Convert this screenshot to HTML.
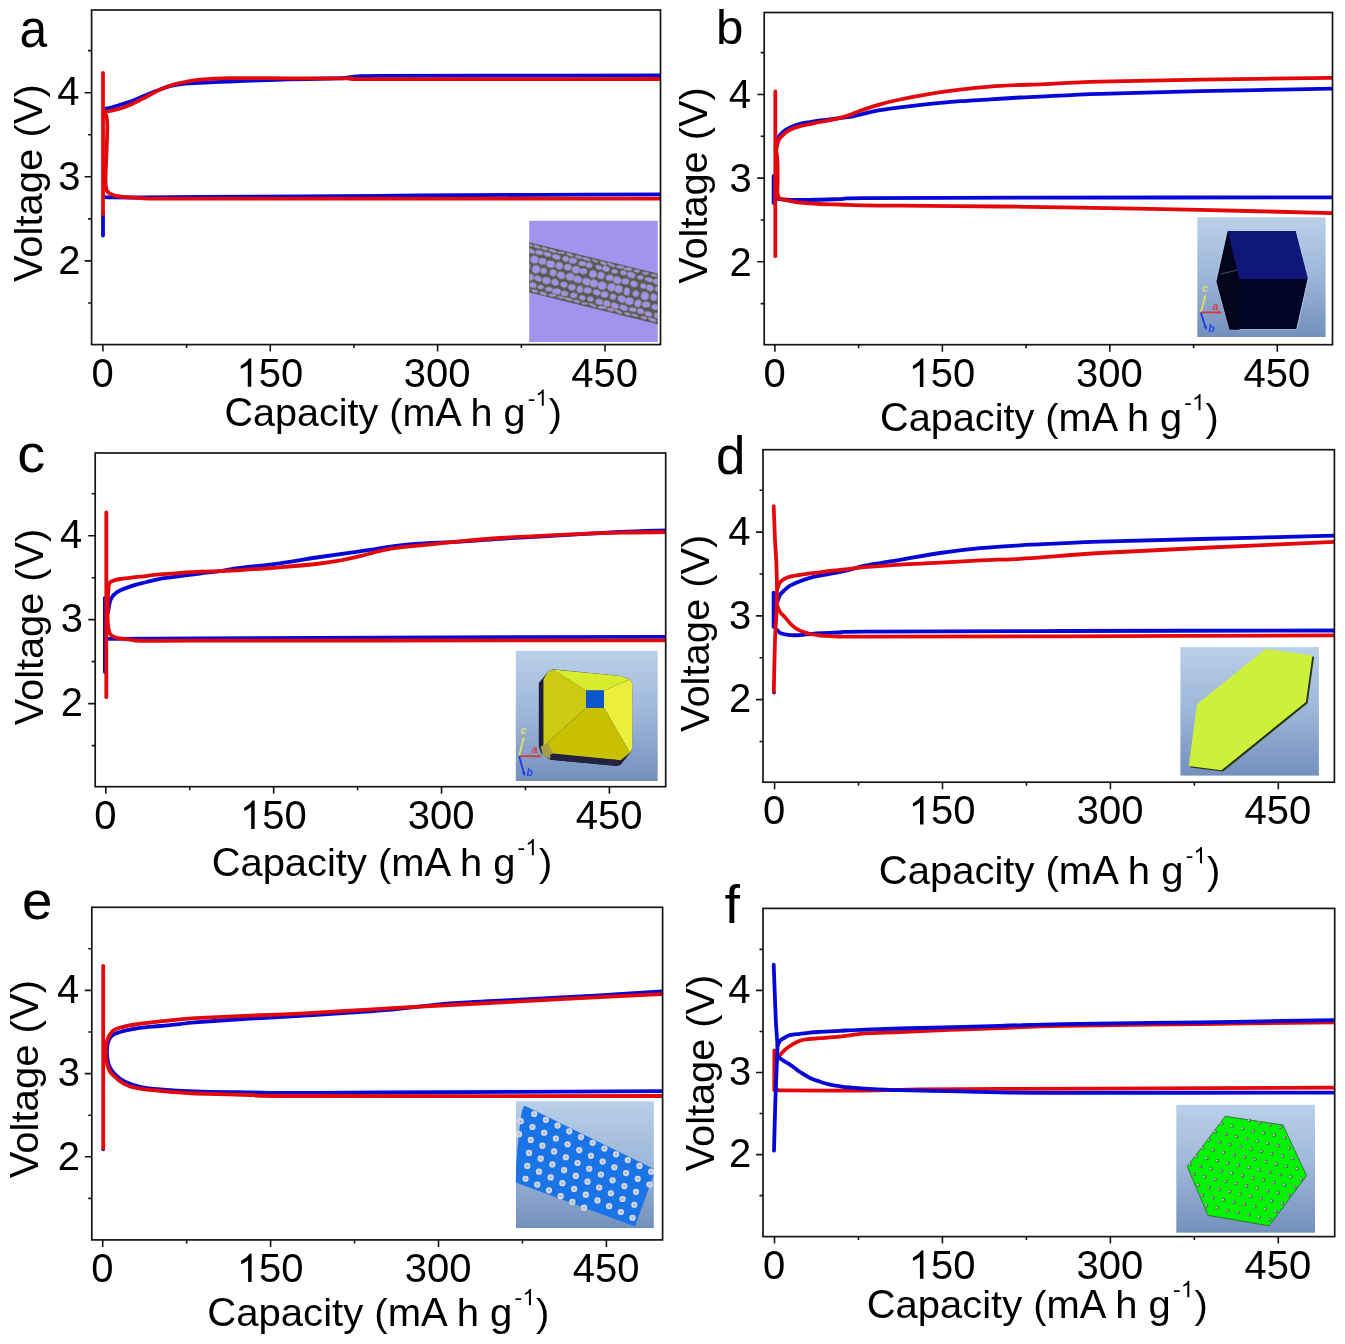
<!DOCTYPE html><html><head><meta charset="utf-8"><style>html,body{margin:0;padding:0;background:#fff;}svg{display:block;filter:blur(0.5px);}text{font-family:"Liberation Sans",sans-serif;fill:#000;}</style></head><body>
<svg width="1345" height="1344" viewBox="0 0 1345 1344">
<defs><linearGradient id="bg" x1="0" y1="0" x2="0" y2="1"><stop offset="0" stop-color="#b9d0e9"/><stop offset="0.5" stop-color="#9db5d8"/><stop offset="1" stop-color="#7390bd"/></linearGradient></defs>
<rect width="1345" height="1344" fill="#fff"/>
<rect x="529.2" y="220.8" width="128.6" height="121.2" fill="#a293ee"/>
<polygon points="529.2,242.3 657.8,273.6 657.8,324.3 529.2,292.5" fill="#59585c"/>
<clipPath id="cpa"><polygon points="529.2,242.3 657.8,273.6 657.8,324.3 529.2,292.5"/></clipPath>
<g clip-path="url(#cpa)" fill="#a092ea" stroke="#858070" stroke-width="0.8"><ellipse cx="528.43" cy="244.82" rx="4.39" ry="1.31" transform="rotate(13.87 528.43 244.82)"/><ellipse cx="537.07" cy="246.74" rx="3.77" ry="1.39" transform="rotate(20.71 537.07 246.74)"/><ellipse cx="544.55" cy="248.62" rx="3.14" ry="1.48" transform="rotate(18.32 544.55 248.62)"/><ellipse cx="552.74" cy="250.93" rx="4.45" ry="1.4" transform="rotate(16.45 552.74 250.93)"/><ellipse cx="561.4" cy="252.59" rx="3.79" ry="1.12" transform="rotate(6.24 561.4 252.59)"/><ellipse cx="569.9" cy="254.66" rx="3.7" ry="1.3" transform="rotate(21.9 569.9 254.66)"/><ellipse cx="578.68" cy="257.08" rx="3.75" ry="1.41" transform="rotate(12.66 578.68 257.08)"/><ellipse cx="586.57" cy="259.17" rx="4.49" ry="1.5" transform="rotate(18.67 586.57 259.17)"/><ellipse cx="595.08" cy="260.88" rx="3.43" ry="1.12" transform="rotate(20.07 595.08 260.88)"/><ellipse cx="603.52" cy="263.22" rx="3.58" ry="1.55" transform="rotate(22.01 603.52 263.22)"/><ellipse cx="611.24" cy="264.81" rx="4.37" ry="1.32" transform="rotate(25.21 611.24 264.81)"/><ellipse cx="620.31" cy="266.95" rx="3.94" ry="1.47" transform="rotate(8.15 620.31 266.95)"/><ellipse cx="628.09" cy="268.97" rx="4.45" ry="1.46" transform="rotate(4.51 628.09 268.97)"/><ellipse cx="636.75" cy="270.97" rx="3.09" ry="1.47" transform="rotate(5.94 636.75 270.97)"/><ellipse cx="645.62" cy="273.29" rx="3.29" ry="1.44" transform="rotate(4.82 645.62 273.29)"/><ellipse cx="654.16" cy="275.21" rx="3.63" ry="1.19" transform="rotate(8.15 654.16 275.21)"/><ellipse cx="663.01" cy="277.68" rx="3.46" ry="1.52" transform="rotate(6.74 663.01 277.68)"/><ellipse cx="531.22" cy="251.1" rx="3.96" ry="2.14" transform="rotate(25.42 531.22 251.1)"/><ellipse cx="539.38" cy="252.56" rx="4.16" ry="2.35" transform="rotate(8.79 539.38 252.56)"/><ellipse cx="547.53" cy="254.4" rx="3.87" ry="2.27" transform="rotate(16.11 547.53 254.4)"/><ellipse cx="556.33" cy="256.86" rx="4.44" ry="2.5" transform="rotate(15.47 556.33 256.86)"/><ellipse cx="565.61" cy="258.88" rx="3.23" ry="2.89" transform="rotate(21.31 565.61 258.88)"/><ellipse cx="572.88" cy="260.66" rx="4.11" ry="2.92" transform="rotate(6.4 572.88 260.66)"/><ellipse cx="582.32" cy="263.56" rx="3.91" ry="2.44" transform="rotate(4.17 582.32 263.56)"/><ellipse cx="589.07" cy="265.27" rx="3.36" ry="2.7" transform="rotate(7.85 589.07 265.27)"/><ellipse cx="598.87" cy="267.34" rx="3.44" ry="2.21" transform="rotate(18.97 598.87 267.34)"/><ellipse cx="605.98" cy="268.75" rx="3.84" ry="2.83" transform="rotate(16.42 605.98 268.75)"/><ellipse cx="614.57" cy="271.44" rx="3.31" ry="2.07" transform="rotate(8.14 614.57 271.44)"/><ellipse cx="623.39" cy="272.84" rx="3.26" ry="2.39" transform="rotate(15.41 623.39 272.84)"/><ellipse cx="631.13" cy="274.99" rx="4.34" ry="2.95" transform="rotate(17.45 631.13 274.99)"/><ellipse cx="640.42" cy="277.44" rx="3.21" ry="2.08" transform="rotate(2.11 640.42 277.44)"/><ellipse cx="649.14" cy="279.67" rx="4.44" ry="2.07" transform="rotate(16.95 649.14 279.67)"/><ellipse cx="656.74" cy="281.54" rx="3.48" ry="2.97" transform="rotate(3.49 656.74 281.54)"/><ellipse cx="665.21" cy="283.61" rx="4.35" ry="2.73" transform="rotate(18.57 665.21 283.61)"/><ellipse cx="525.86" cy="258" rx="3.53" ry="3.51" transform="rotate(23.3 525.86 258)"/><ellipse cx="534.48" cy="259.53" rx="4.19" ry="3.73" transform="rotate(15.43 534.48 259.53)"/><ellipse cx="542.41" cy="261.42" rx="3.87" ry="3.42" transform="rotate(3.6 542.41 261.42)"/><ellipse cx="550.63" cy="264.12" rx="4.32" ry="3.57" transform="rotate(11 550.63 264.12)"/><ellipse cx="559.27" cy="265.75" rx="3.66" ry="3.7" transform="rotate(3.69 559.27 265.75)"/><ellipse cx="567.79" cy="267.19" rx="3.9" ry="3.27" transform="rotate(7.2 567.79 267.19)"/><ellipse cx="575.94" cy="269.71" rx="3.92" ry="3.8" transform="rotate(7.82 575.94 269.71)"/><ellipse cx="583.14" cy="271.24" rx="4.02" ry="2.93" transform="rotate(5.75 583.14 271.24)"/><ellipse cx="592.97" cy="274.04" rx="3.66" ry="3.76" transform="rotate(9.53 592.97 274.04)"/><ellipse cx="601.03" cy="275.48" rx="3.65" ry="3.66" transform="rotate(23.62 601.03 275.48)"/><ellipse cx="609.71" cy="277.8" rx="3.87" ry="3.07" transform="rotate(4.95 609.71 277.8)"/><ellipse cx="617.27" cy="280.16" rx="4.27" ry="3.55" transform="rotate(24.48 617.27 280.16)"/><ellipse cx="625.42" cy="281.38" rx="3.68" ry="3.02" transform="rotate(6.82 625.42 281.38)"/><ellipse cx="633.9" cy="283.97" rx="3.74" ry="3.07" transform="rotate(21.82 633.9 283.97)"/><ellipse cx="643.29" cy="286.05" rx="3.11" ry="2.73" transform="rotate(22.63 643.29 286.05)"/><ellipse cx="649.94" cy="287.96" rx="3.86" ry="3.06" transform="rotate(20.68 649.94 287.96)"/><ellipse cx="658.4" cy="289.37" rx="3.68" ry="2.72" transform="rotate(21.59 658.4 289.37)"/><ellipse cx="527.19" cy="266.47" rx="3.07" ry="3.72" transform="rotate(12.39 527.19 266.47)"/><ellipse cx="536.09" cy="269.27" rx="4.21" ry="4.15" transform="rotate(18.11 536.09 269.27)"/><ellipse cx="543.74" cy="270.91" rx="3.27" ry="2.91" transform="rotate(13.01 543.74 270.91)"/><ellipse cx="553.08" cy="272.82" rx="3.41" ry="3.35" transform="rotate(18.41 553.08 272.82)"/><ellipse cx="560.98" cy="275.28" rx="4.13" ry="3.41" transform="rotate(20.69 560.98 275.28)"/><ellipse cx="570.16" cy="276.86" rx="4.4" ry="3.84" transform="rotate(4.8 570.16 276.86)"/><ellipse cx="577.57" cy="279.33" rx="4.36" ry="3.39" transform="rotate(15.33 577.57 279.33)"/><ellipse cx="586.62" cy="281.74" rx="4.42" ry="3.5" transform="rotate(17.31 586.62 281.74)"/><ellipse cx="593.82" cy="283.4" rx="4.23" ry="3.73" transform="rotate(18.9 593.82 283.4)"/><ellipse cx="602.14" cy="285.65" rx="4.47" ry="4.17" transform="rotate(14.57 602.14 285.65)"/><ellipse cx="611.67" cy="287.25" rx="4.36" ry="4.01" transform="rotate(10.04 611.67 287.25)"/><ellipse cx="618.75" cy="289.12" rx="3.83" ry="3.9" transform="rotate(13.38 618.75 289.12)"/><ellipse cx="626.91" cy="291.56" rx="3.1" ry="3.94" transform="rotate(5.83 626.91 291.56)"/><ellipse cx="635.81" cy="293.7" rx="3.21" ry="3.09" transform="rotate(14.08 635.81 293.7)"/><ellipse cx="644.83" cy="295.96" rx="4.03" ry="4.13" transform="rotate(13.5 644.83 295.96)"/><ellipse cx="653.79" cy="297.21" rx="3.33" ry="3.58" transform="rotate(8.64 653.79 297.21)"/><ellipse cx="661.61" cy="299.8" rx="3.78" ry="4" transform="rotate(15.12 661.61 299.8)"/><ellipse cx="520.99" cy="274.33" rx="4.27" ry="3.77" transform="rotate(6.68 520.99 274.33)"/><ellipse cx="530.13" cy="277.22" rx="3.79" ry="3.38" transform="rotate(6.5 530.13 277.22)"/><ellipse cx="538.06" cy="278.62" rx="3.91" ry="2.72" transform="rotate(24.94 538.06 278.62)"/><ellipse cx="546.41" cy="280.54" rx="4.2" ry="3.37" transform="rotate(13.46 546.41 280.54)"/><ellipse cx="555.16" cy="282.28" rx="3.81" ry="3.19" transform="rotate(24.64 555.16 282.28)"/><ellipse cx="563.87" cy="284.63" rx="3.71" ry="2.84" transform="rotate(12.09 563.87 284.63)"/><ellipse cx="571.87" cy="287.3" rx="3.71" ry="3.07" transform="rotate(6.27 571.87 287.3)"/><ellipse cx="579.88" cy="289.28" rx="3.19" ry="3.63" transform="rotate(2.23 579.88 289.28)"/><ellipse cx="587.67" cy="290.38" rx="4.03" ry="3.08" transform="rotate(10.21 587.67 290.38)"/><ellipse cx="596.81" cy="292.46" rx="4.1" ry="2.84" transform="rotate(13.93 596.81 292.46)"/><ellipse cx="604.49" cy="294.44" rx="3.8" ry="3.22" transform="rotate(10.7 604.49 294.44)"/><ellipse cx="613.05" cy="296.9" rx="3.24" ry="2.94" transform="rotate(16.83 613.05 296.9)"/><ellipse cx="621.8" cy="299.03" rx="4.28" ry="3.43" transform="rotate(22.24 621.8 299.03)"/><ellipse cx="629.39" cy="301.12" rx="4.22" ry="3.78" transform="rotate(9.26 629.39 301.12)"/><ellipse cx="637.84" cy="303.39" rx="3.33" ry="3.89" transform="rotate(22.98 637.84 303.39)"/><ellipse cx="646.06" cy="304.6" rx="4.09" ry="3" transform="rotate(4.01 646.06 304.6)"/><ellipse cx="655.59" cy="307.13" rx="4.18" ry="2.84" transform="rotate(11.35 655.59 307.13)"/><ellipse cx="524.04" cy="282.82" rx="3.3" ry="2.68" transform="rotate(23.55 524.04 282.82)"/><ellipse cx="532.87" cy="285.06" rx="3.76" ry="2.75" transform="rotate(13.75 532.87 285.06)"/><ellipse cx="540.72" cy="287.03" rx="3.11" ry="2.15" transform="rotate(2.58 540.72 287.03)"/><ellipse cx="548.77" cy="289.28" rx="3.85" ry="2.19" transform="rotate(6.11 548.77 289.28)"/><ellipse cx="556.46" cy="291.43" rx="4.49" ry="2.9" transform="rotate(3.97 556.46 291.43)"/><ellipse cx="564.54" cy="293.5" rx="3.69" ry="2.75" transform="rotate(9.52 564.54 293.5)"/><ellipse cx="573.69" cy="295.34" rx="3.65" ry="2.6" transform="rotate(2 573.69 295.34)"/><ellipse cx="582.39" cy="297.75" rx="3.27" ry="2.47" transform="rotate(19.42 582.39 297.75)"/><ellipse cx="590.36" cy="299.12" rx="3.25" ry="2.52" transform="rotate(2.05 590.36 299.12)"/><ellipse cx="599.45" cy="301.86" rx="4.06" ry="2.84" transform="rotate(16.78 599.45 301.86)"/><ellipse cx="606.99" cy="303.52" rx="3.76" ry="2.95" transform="rotate(20.99 606.99 303.52)"/><ellipse cx="615.03" cy="305.75" rx="4.12" ry="2.77" transform="rotate(21.23 615.03 305.75)"/><ellipse cx="623.65" cy="307.84" rx="4.32" ry="2.69" transform="rotate(20.09 623.65 307.84)"/><ellipse cx="632.73" cy="309.62" rx="4.08" ry="2.12" transform="rotate(9.88 632.73 309.62)"/><ellipse cx="640.65" cy="311.2" rx="3.53" ry="2.64" transform="rotate(16.66 640.65 311.2)"/><ellipse cx="648.4" cy="313.9" rx="4" ry="2.36" transform="rotate(17.51 648.4 313.9)"/><ellipse cx="657.43" cy="315.74" rx="3.58" ry="2.97" transform="rotate(17.09 657.43 315.74)"/><ellipse cx="518.54" cy="287.35" rx="4.47" ry="1.1" transform="rotate(16.45 518.54 287.35)"/><ellipse cx="527.02" cy="289.18" rx="3.6" ry="1.11" transform="rotate(6.37 527.02 289.18)"/><ellipse cx="534.75" cy="290.99" rx="3.38" ry="1.53" transform="rotate(14.88 534.75 290.99)"/><ellipse cx="543.25" cy="293.46" rx="3.85" ry="1.57" transform="rotate(16.99 543.25 293.46)"/><ellipse cx="552.23" cy="295.23" rx="3.9" ry="1.46" transform="rotate(2.76 552.23 295.23)"/><ellipse cx="560.79" cy="297.36" rx="3.71" ry="1.17" transform="rotate(13.57 560.79 297.36)"/><ellipse cx="568.6" cy="299.21" rx="4.42" ry="1.29" transform="rotate(14.32 568.6 299.21)"/><ellipse cx="576.9" cy="301.37" rx="3.43" ry="1.41" transform="rotate(15.13 576.9 301.37)"/><ellipse cx="584.66" cy="303.42" rx="3.44" ry="1.09" transform="rotate(7.56 584.66 303.42)"/><ellipse cx="592.66" cy="305.11" rx="4.13" ry="1.28" transform="rotate(23.22 592.66 305.11)"/><ellipse cx="602.26" cy="307.4" rx="4.48" ry="1.55" transform="rotate(3.44 602.26 307.4)"/><ellipse cx="610.85" cy="309.67" rx="3.72" ry="1.56" transform="rotate(7.53 610.85 309.67)"/><ellipse cx="618.48" cy="311.76" rx="4.08" ry="1.31" transform="rotate(25.17 618.48 311.76)"/><ellipse cx="627.39" cy="313.77" rx="3.17" ry="1.39" transform="rotate(12.62 627.39 313.77)"/><ellipse cx="634.73" cy="315.3" rx="3.79" ry="1.15" transform="rotate(12.31 634.73 315.3)"/><ellipse cx="643.86" cy="317.71" rx="3.39" ry="1.37" transform="rotate(11.75 643.86 317.71)"/><ellipse cx="652.4" cy="319.82" rx="4.5" ry="1.55" transform="rotate(19.3 652.4 319.82)"/></g>
<clipPath id="clipa"><rect x="91.6" y="10" width="568.9" height="334.6"/></clipPath><g clip-path="url(#clipa)">
<path d="M103 214 L103 235.5" fill="none" stroke="#0606d6" stroke-width="3.8" stroke-linecap="round" stroke-linejoin="round"/>
<path d="M104 197 C105.33 197.07 106 197.32 112 197.4 C118 197.48 125.33 197.57 140 197.5 C154.67 197.43 173.33 197.17 200 197 C226.67 196.83 263.33 196.75 300 196.5 C336.67 196.25 380 195.78 420 195.5 C460 195.22 500 194.98 540 194.8 C580 194.62 640 194.47 660 194.4" fill="none" stroke="#0606d6" stroke-width="3.8" stroke-linecap="round" stroke-linejoin="round"/>
<path d="M104 108.8 C105 108.63 107 108.57 110 107.8 C113 107.03 118.33 105.33 122 104.2 C125.67 103.07 128.17 102.45 132 101 C135.83 99.55 140.33 97.42 145 95.5 C149.67 93.58 155.5 91.15 160 89.5 C164.5 87.85 167.83 86.58 172 85.6 C176.17 84.62 180.33 84.07 185 83.6 C189.67 83.13 192.5 83.15 200 82.8 C207.5 82.45 220 81.92 230 81.5 C240 81.08 250 80.65 260 80.3 C270 79.95 278.33 79.7 290 79.4 C301.67 79.1 320.83 78.73 330 78.5 C339.17 78.27 340.33 78.37 345 78 C349.67 77.63 352.17 76.67 358 76.3 C363.83 75.93 356.33 75.9 380 75.8 C403.67 75.7 453.33 75.77 500 75.7 C546.67 75.63 633.33 75.45 660 75.4" fill="none" stroke="#0606d6" stroke-width="3.8" stroke-linecap="round" stroke-linejoin="round"/>
<path d="M103 72.8 L103 214.5" fill="none" stroke="#e3080c" stroke-width="3.8" stroke-linecap="round" stroke-linejoin="round"/>
<path d="M104.5 112 C104.88 113 106.33 115.33 106.8 118 C107.27 120.67 107.33 122.67 107.3 128 C107.27 133.33 106.88 142.17 106.6 150 C106.32 157.83 105.73 169 105.6 175 C105.47 181 105.57 183.33 105.8 186 C106.03 188.67 106.3 189.73 107 191 C107.7 192.27 108.67 192.83 110 193.6 C111.33 194.37 112.5 195 115 195.6 C117.5 196.2 120.83 196.77 125 197.2 C129.17 197.63 132.17 197.95 140 198.2 C147.83 198.45 145.33 198.62 172 198.7 C198.67 198.78 218.67 198.72 300 198.7 C381.33 198.68 600 198.62 660 198.6" fill="none" stroke="#e3080c" stroke-width="3.8" stroke-linecap="round" stroke-linejoin="round"/>
<path d="M104.5 112 C105.42 111.83 107.08 111.67 110 111 C112.92 110.33 118.33 109.17 122 108 C125.67 106.83 128.17 105.75 132 104 C135.83 102.25 140.33 99.9 145 97.5 C149.67 95.1 155.5 91.68 160 89.6 C164.5 87.52 167.83 86.27 172 85 C176.17 83.73 180.33 82.9 185 82 C189.67 81.1 192.5 80.23 200 79.6 C207.5 78.97 215 78.42 230 78.2 C245 77.98 271.67 78.28 290 78.3 C308.33 78.32 329.67 78.28 340 78.3 C350.33 78.32 348.17 78.27 352 78.4 C355.83 78.53 338.33 78.97 363 79.1 C387.67 79.23 450.5 79.22 500 79.2 C549.5 79.18 633.33 79.03 660 79" fill="none" stroke="#e3080c" stroke-width="3.8" stroke-linecap="round" stroke-linejoin="round"/>
</g>
<rect x="91.6" y="10" width="568.9" height="334.6" fill="none" stroke="#151515" stroke-width="1.7"/>
<path d="M102.9 344.6 V351.6 M270.27 344.6 V351.6 M437.63 344.6 V351.6 M605 344.6 V351.6 M186.58 344.6 V348.1 M353.95 344.6 V348.1 M521.32 344.6 V348.1 M91.6 260.9 H84.6 M91.6 176.8 H84.6 M91.6 92.7 H84.6 M91.6 302.95 H88.1 M91.6 218.85 H88.1 M91.6 134.75 H88.1 M91.6 50.65 H88.1" stroke="#151515" stroke-width="1.6" fill="none"/>
<text transform="translate(102.5 386.8) scale(1 1.03)" font-size="40" text-anchor="middle">0</text>
<path d="M763 0L583 0L583 1147C540 1106 480 1063 412 1023C344 983 277 951 221 930L221 1104C320 1150 405 1206 485 1276C565 1346 620 1413 645 1472L763 1472Z" transform="translate(236.5 386.8) scale(0.01934 -0.01926)" fill="#000"/>
<text transform="translate(258.74 386.8) scale(1 1.03)" font-size="40" text-anchor="start">50</text>
<text transform="translate(437.23 386.8) scale(1 1.03)" font-size="40" text-anchor="middle">300</text>
<text transform="translate(604.6 386.8) scale(1 1.03)" font-size="40" text-anchor="middle">450</text>
<text transform="translate(80.4 273.6) scale(1 1.03)" font-size="40" text-anchor="end">2</text>
<text transform="translate(80.4 189.5) scale(1 1.03)" font-size="40" text-anchor="end">3</text>
<text transform="translate(79.6 105.4) scale(1 1.03)" font-size="40" text-anchor="end">4</text>
<text transform="translate(19.51 46.86) scale(0.92565 1)" font-size="53.8" text-anchor="start">a</text>
<text transform="translate(41.8 282.1) rotate(-90) translate(0 0) scale(1 1.03)" font-size="40">V</text>
<text transform="translate(41.8 282.1) rotate(-90) translate(24.47 0) scale(1 0.985)" font-size="40">oltage (</text>
<text transform="translate(41.8 282.1) rotate(-90) translate(157.89 0) scale(1 1.03)" font-size="40">V</text>
<text transform="translate(41.8 282.1) rotate(-90) translate(184.57 0) scale(1 0.985)" font-size="40">)</text>
<text transform="translate(224.58 426) scale(1 1.03)" font-size="39.51">C</text>
<text transform="translate(253.12 426) scale(1 0.985)" font-size="39.51">apacity (m</text>
<text transform="translate(435.35 426) scale(1 1.03)" font-size="39.51">A </text>
<text transform="translate(470.5 426) scale(1 0.985)" font-size="39.51">h g</text>
<text transform="translate(527.63 405.65) scale(1 0.985)" font-size="22.72" text-anchor="start">-</text>
<path d="M763 0L583 0L583 1147C540 1106 480 1063 412 1023C344 983 277 951 221 930L221 1104C320 1150 405 1206 485 1276C565 1346 620 1413 645 1472L763 1472Z" transform="translate(535.39 405.65) scale(0.01098 -0.01094)" fill="#000"/>
<text transform="translate(548.83 426) scale(1 0.985)" font-size="39.51" text-anchor="start">)</text>
<rect x="1197.3" y="217.3" width="128.3" height="119.7" fill="url(#bg)"/>
<polygon points="1227.73,231.02 1295.65,231.02 1308.05,279 1296.73,329.66 1229.35,329.66 1216.41,281.69" fill="#03042a" stroke="#c4d4ee" stroke-width="0.9"/>
<polygon points="1227.73,231.02 1295.65,231.02 1308.05,279 1239.05,279" fill="#0f187a"/>
<polygon points="1227.73,231.02 1239.05,279 1239.59,329.66 1229.35,329.66 1216.41,281.69" fill="#04041a"/>
<path d="M1220.72 274.14 L1237.43 269.83" stroke="#6a6a78" stroke-width="0.7"/>
<path d="M1200.8 312.4 L1204.56 298.36" stroke="#e6e650" stroke-width="1.7"/><polygon points="1205.6,294.5 1206.3,298.83 1202.83,297.9" fill="#e6e650"/>
<path d="M1200.8 312.4 L1218 312.4" stroke="#dd3333" stroke-width="1.7"/><polygon points="1222,312.4 1218,314.2 1218,310.6" fill="#dd3333"/>
<path d="M1200.8 312.4 L1205.19 326.19" stroke="#1a33e6" stroke-width="1.7"/><polygon points="1206.4,330 1203.47,326.73 1206.9,325.64" fill="#1a33e6"/>
<text x="1202.2" y="291.9" font-size="10.5" font-style="italic" font-weight="bold" style="fill:#e4e45c">c</text>
<text x="1212.6" y="309.7" font-size="10.5" font-style="italic" font-weight="bold" style="fill:#dd3a3a">a</text>
<text x="1208.2" y="331.8" font-size="10.5" font-style="italic" font-weight="bold" style="fill:#2244ee">b</text>
<clipPath id="clipb"><rect x="764.2" y="12.5" width="568.3" height="332.2"/></clipPath><g clip-path="url(#clipb)">
<path d="M773.6 176 L773.6 203" fill="none" stroke="#0606d6" stroke-width="3.8" stroke-linecap="round" stroke-linejoin="round"/>
<path d="M777 198.6 C777.5 198.68 776.17 198.87 780 199.1 C783.83 199.33 790 200 800 200 C810 200 829.17 199.4 840 199.1 C850.83 198.8 831.67 198.45 865 198.2 C898.33 197.95 962.17 197.73 1040 197.6 C1117.83 197.47 1283.33 197.43 1332 197.4" fill="none" stroke="#0606d6" stroke-width="3.8" stroke-linecap="round" stroke-linejoin="round"/>
<path d="M775.6 147 C775.83 145.75 776.27 141.48 777 139.5 C777.73 137.52 778.67 136.63 780 135.1 C781.33 133.57 783.33 131.58 785 130.3 C786.67 129.02 787.5 128.48 790 127.4 C792.5 126.32 796.67 124.7 800 123.8 C803.33 122.9 806.67 122.55 810 122 C813.33 121.45 816.67 120.93 820 120.5 C823.33 120.07 826.67 119.8 830 119.4 C833.33 119 836.67 118.5 840 118.1 C843.33 117.7 846.67 117.58 850 117 C853.33 116.42 855 115.73 860 114.6 C865 113.47 873.33 111.42 880 110.2 C886.67 108.98 891.67 108.35 900 107.3 C908.33 106.25 920 104.92 930 103.9 C940 102.88 950 101.95 960 101.2 C970 100.45 980 100.02 990 99.4 C1000 98.78 1011.67 97.97 1020 97.5 C1028.33 97.03 1026.67 97.2 1040 96.6 C1053.33 96 1073.33 94.8 1100 93.9 C1126.67 93 1161.33 92.08 1200 91.2 C1238.67 90.32 1310 89.03 1332 88.6" fill="none" stroke="#0606d6" stroke-width="3.8" stroke-linecap="round" stroke-linejoin="round"/>
<path d="M775.3 91.5 L775.3 256.2" fill="none" stroke="#e3080c" stroke-width="3.8" stroke-linecap="round" stroke-linejoin="round"/>
<path d="M776 150 C776.23 151.67 777.12 155 777.4 160 C777.68 165 777.68 174.5 777.7 180 C777.72 185.5 777.12 189.9 777.5 193 C777.88 196.1 777.92 197.28 780 198.6 C782.08 199.92 786.67 200.22 790 200.9 C793.33 201.58 795 202.18 800 202.7 C805 203.22 813.33 203.7 820 204 C826.67 204.3 832.5 204.27 840 204.5 C847.5 204.73 855 205.2 865 205.4 C875 205.6 877.5 205.52 900 205.7 C922.5 205.88 972.67 206.22 1000 206.5 C1027.33 206.78 1030.67 206.83 1064 207.4 C1097.33 207.97 1155.33 208.95 1200 209.9 C1244.67 210.85 1310 212.57 1332 213.1" fill="none" stroke="#e3080c" stroke-width="3.8" stroke-linecap="round" stroke-linejoin="round"/>
<path d="M776 151 C776.33 149.5 777.33 144.15 778 142 C778.67 139.85 778.83 139.55 780 138.1 C781.17 136.65 783.33 134.7 785 133.3 C786.67 131.9 787.5 130.88 790 129.7 C792.5 128.52 796.67 127.13 800 126.2 C803.33 125.27 806.67 124.8 810 124.1 C813.33 123.4 816.67 122.65 820 122 C823.33 121.35 826.67 120.9 830 120.2 C833.33 119.5 836.67 118.68 840 117.8 C843.33 116.92 846.67 116.07 850 114.9 C853.33 113.73 855 112.57 860 110.8 C865 109.03 873.33 106.18 880 104.3 C886.67 102.42 891.67 101.25 900 99.5 C908.33 97.75 920 95.45 930 93.8 C940 92.15 950 90.8 960 89.6 C970 88.4 980 87.37 990 86.6 C1000 85.83 1011.67 85.38 1020 85 C1028.33 84.62 1026.67 84.87 1040 84.3 C1053.33 83.73 1073.33 82.38 1100 81.6 C1126.67 80.82 1161.33 80.23 1200 79.6 C1238.67 78.97 1310 78.1 1332 77.8" fill="none" stroke="#e3080c" stroke-width="3.8" stroke-linecap="round" stroke-linejoin="round"/>
</g>
<rect x="764.2" y="12.5" width="568.3" height="332.2" fill="none" stroke="#151515" stroke-width="1.7"/>
<path d="M774.9 344.7 V351.7 M942.37 344.7 V351.7 M1109.83 344.7 V351.7 M1277.3 344.7 V351.7 M858.63 344.7 V348.2 M1026.1 344.7 V348.2 M1193.57 344.7 V348.2 M764.2 261.8 H757.2 M764.2 178.15 H757.2 M764.2 94.5 H757.2 M764.2 303.62 H760.7 M764.2 219.98 H760.7 M764.2 136.32 H760.7 M764.2 52.67 H760.7" stroke="#151515" stroke-width="1.6" fill="none"/>
<text transform="translate(774.5 386.9) scale(1 1.03)" font-size="40" text-anchor="middle">0</text>
<path d="M763 0L583 0L583 1147C540 1106 480 1063 412 1023C344 983 277 951 221 930L221 1104C320 1150 405 1206 485 1276C565 1346 620 1413 645 1472L763 1472Z" transform="translate(908.6 386.9) scale(0.01934 -0.01926)" fill="#000"/>
<text transform="translate(930.84 386.9) scale(1 1.03)" font-size="40" text-anchor="start">50</text>
<text transform="translate(1109.43 386.9) scale(1 1.03)" font-size="40" text-anchor="middle">300</text>
<text transform="translate(1276.9 386.9) scale(1 1.03)" font-size="40" text-anchor="middle">450</text>
<text transform="translate(751.8 275.5) scale(1 1.03)" font-size="40" text-anchor="end">2</text>
<text transform="translate(751.8 191.85) scale(1 1.03)" font-size="40" text-anchor="end">3</text>
<text transform="translate(751 108.2) scale(1 1.03)" font-size="40" text-anchor="end">4</text>
<text transform="translate(716.1 43.92) scale(1.03 1)" font-size="47.8" text-anchor="start">b</text>
<text transform="translate(706.6 283.8) rotate(-90) translate(0 0) scale(1 1.03)" font-size="39.7">V</text>
<text transform="translate(706.6 283.8) rotate(-90) translate(24.29 0) scale(1 0.985)" font-size="39.7">oltage (</text>
<text transform="translate(706.6 283.8) rotate(-90) translate(156.71 0) scale(1 1.03)" font-size="39.7">V</text>
<text transform="translate(706.6 283.8) rotate(-90) translate(183.19 0) scale(1 0.985)" font-size="39.7">)</text>
<text transform="translate(879.98 430.6) scale(1 1.03)" font-size="39.68">C</text>
<text transform="translate(908.63 430.6) scale(1 0.985)" font-size="39.68">apacity (m</text>
<text transform="translate(1091.63 430.6) scale(1 1.03)" font-size="39.68">A </text>
<text transform="translate(1126.93 430.6) scale(1 0.985)" font-size="39.68">h g</text>
<text transform="translate(1184.29 410.17) scale(1 0.985)" font-size="22.81" text-anchor="start">-</text>
<path d="M763 0L583 0L583 1147C540 1106 480 1063 412 1023C344 983 277 951 221 930L221 1104C320 1150 405 1206 485 1276C565 1346 620 1413 645 1472L763 1472Z" transform="translate(1192.09 410.17) scale(0.01103 -0.01098)" fill="#000"/>
<text transform="translate(1205.58 430.6) scale(1 0.985)" font-size="39.68" text-anchor="start">)</text>
<rect x="515.8" y="650.8" width="141.9" height="130.2" fill="url(#bg)"/>
<polygon points="538.81,683.03 548.03,672.08 552.64,669.2 620.64,676.12 629.86,679.57 632.16,683.03 632.16,748.72 629.86,753.33 620.64,764.86 617.18,766.01 550.34,759.67 541.12,753.33 538.81,746.42" fill="#1c1c3c"/>
<polygon points="543.42,679.57 548.03,672.08 552.64,669.43 586.06,690.52 586.06,707.81 543.42,746.42" fill="#cccb12"/>
<polygon points="552.64,669.43 620.64,676.12 629.86,679.57 603.93,690.52 586.06,690.52" fill="#d6ec2c"/>
<polygon points="603.93,690.52 629.86,679.57 632.16,683.03 632.16,748.72 629.86,752.76 603.93,707.81" fill="#ecee3e"/>
<polygon points="586.06,707.81 603.93,707.81 629.86,752.76 620.64,760.25 550.34,753.33 543.42,746.42" fill="#c8c000"/>
<polygon points="586.06,690.52 603.93,690.52 603.93,707.81 586.06,707.81" fill="#0b56cc"/>
<polygon points="540.54,746.42 548.03,742.96 552.64,752.18 550.34,759.09 542.85,755.06" fill="#a6a040"/>
<polygon points="550.34,753.91 620.06,760.25 617.18,766.01 550.34,759.67" fill="#232340"/>
<path d="M519.2 756.2 L522.89 740.4" stroke="#e6e650" stroke-width="1.7"/><polygon points="523.8,736.5 524.64,740.8 521.14,739.99" fill="#e6e650"/>
<path d="M519.2 756.2 L537.6 756.2" stroke="#dd3333" stroke-width="1.7"/><polygon points="541.6,756.2 537.6,758 537.6,754.4" fill="#dd3333"/>
<path d="M519.2 756.2 L523.55 772.14" stroke="#1a33e6" stroke-width="1.7"/><polygon points="524.6,776 521.81,772.61 525.28,771.67" fill="#1a33e6"/>
<text x="520.8" y="733.7" font-size="10.5" font-style="italic" font-weight="bold" style="fill:#e4e45c">c</text>
<text x="531.8" y="752.8" font-size="10.5" font-style="italic" font-weight="bold" style="fill:#dd3a3a">a</text>
<text x="526.6" y="776.4" font-size="10.5" font-style="italic" font-weight="bold" style="fill:#2244ee">b</text>
<clipPath id="clipc"><rect x="95.2" y="453" width="570.5" height="333.7"/></clipPath><g clip-path="url(#clipc)">
<path d="M104.9 598 L104.9 672" fill="none" stroke="#0606d6" stroke-width="3.8" stroke-linecap="round" stroke-linejoin="round"/>
<path d="M107 638.8 C122.17 638.73 152.5 638.6 198 638.4 C243.5 638.2 302.17 637.87 380 637.6 C457.83 637.33 617.5 636.93 665 636.8" fill="none" stroke="#0606d6" stroke-width="3.8" stroke-linecap="round" stroke-linejoin="round"/>
<path d="M108 612 C108.33 610.27 109.33 604.07 110 601.6 C110.67 599.13 111.17 598.5 112 597.2 C112.83 595.9 113.67 594.92 115 593.8 C116.33 592.68 117.5 591.7 120 590.5 C122.5 589.3 126.67 587.75 130 586.6 C133.33 585.45 136.67 584.5 140 583.6 C143.33 582.7 146.67 582 150 581.2 C153.33 580.4 155 579.63 160 578.8 C165 577.97 173.33 577.08 180 576.2 C186.67 575.32 193.33 574.35 200 573.5 C206.67 572.65 213.33 572.02 220 571.1 C226.67 570.18 230 569.3 240 568 C250 566.7 266.67 565.13 280 563.3 C293.33 561.47 306.67 559 320 557 C333.33 555 346.67 553.22 360 551.3 C373.33 549.38 390 546.78 400 545.5 C410 544.22 410 544.25 420 543.6 C430 542.95 446.67 542.4 460 541.6 C473.33 540.8 483.33 539.83 500 538.8 C516.67 537.77 540 536.53 560 535.4 C580 534.27 602.5 532.82 620 532 C637.5 531.18 657.5 530.75 665 530.5" fill="none" stroke="#0606d6" stroke-width="3.8" stroke-linecap="round" stroke-linejoin="round"/>
<path d="M106.3 512.3 L106.3 697.2" fill="none" stroke="#e3080c" stroke-width="3.8" stroke-linecap="round" stroke-linejoin="round"/>
<path d="M108.5 588 C108.38 590 107.95 595.5 107.8 600 C107.65 604.5 107.57 610.83 107.6 615 C107.63 619.17 107.77 622.33 108 625 C108.23 627.67 108.58 629.42 109 631 C109.42 632.58 109.5 633.45 110.5 634.5 C111.5 635.55 113.42 636.65 115 637.3 C116.58 637.95 117.5 638.02 120 638.4 C122.5 638.78 127.5 639.25 130 639.6 C132.5 639.95 131.67 640.3 135 640.5 C138.33 640.7 139.5 640.77 150 640.8 C160.5 640.83 159.67 640.75 198 640.7 C236.33 640.65 302.17 640.55 380 640.5 C457.83 640.45 617.5 640.42 665 640.4" fill="none" stroke="#e3080c" stroke-width="3.8" stroke-linecap="round" stroke-linejoin="round"/>
<path d="M108.2 588 C108.33 587.42 108.7 585.45 109 584.5 C109.3 583.55 109 583.03 110 582.3 C111 581.57 113.33 580.65 115 580.1 C116.67 579.55 117.5 579.38 120 579 C122.5 578.62 126.67 578.18 130 577.8 C133.33 577.42 135 577.27 140 576.7 C145 576.13 153.33 575.03 160 574.4 C166.67 573.77 173.33 573.35 180 572.9 C186.67 572.45 193.33 572 200 571.7 C206.67 571.4 213.33 571.37 220 571.1 C226.67 570.83 230 570.73 240 570.1 C250 569.47 266.67 568.4 280 567.3 C293.33 566.2 310 564.63 320 563.5 C330 562.37 333.33 561.72 340 560.5 C346.67 559.28 353.33 557.82 360 556.2 C366.67 554.58 373.33 552.28 380 550.8 C386.67 549.32 393.33 548.2 400 547.3 C406.67 546.4 410 546.4 420 545.4 C430 544.4 446.67 542.53 460 541.3 C473.33 540.07 483.33 539.08 500 538 C516.67 536.92 540 535.7 560 534.8 C580 533.9 602.5 533.03 620 532.6 C637.5 532.17 657.5 532.27 665 532.2" fill="none" stroke="#e3080c" stroke-width="3.8" stroke-linecap="round" stroke-linejoin="round"/>
</g>
<rect x="95.2" y="453" width="570.5" height="333.7" fill="none" stroke="#151515" stroke-width="1.7"/>
<path d="M105.8 786.7 V793.7 M273.67 786.7 V793.7 M441.53 786.7 V793.7 M609.4 786.7 V793.7 M189.73 786.7 V790.2 M357.6 786.7 V790.2 M525.47 786.7 V790.2 M95.2 703.6 H88.2 M95.2 619.65 H88.2 M95.2 535.7 H88.2 M95.2 745.58 H91.7 M95.2 661.62 H91.7 M95.2 577.68 H91.7 M95.2 493.73 H91.7" stroke="#151515" stroke-width="1.6" fill="none"/>
<text transform="translate(105.4 828.9) scale(1 1.03)" font-size="40" text-anchor="middle">0</text>
<path d="M763 0L583 0L583 1147C540 1106 480 1063 412 1023C344 983 277 951 221 930L221 1104C320 1150 405 1206 485 1276C565 1346 620 1413 645 1472L763 1472Z" transform="translate(239.9 828.9) scale(0.01934 -0.01926)" fill="#000"/>
<text transform="translate(262.14 828.9) scale(1 1.03)" font-size="40" text-anchor="start">50</text>
<text transform="translate(441.13 828.9) scale(1 1.03)" font-size="40" text-anchor="middle">300</text>
<text transform="translate(609 828.9) scale(1 1.03)" font-size="40" text-anchor="middle">450</text>
<text transform="translate(83.05 716.3) scale(1 1.03)" font-size="40" text-anchor="end">2</text>
<text transform="translate(83.05 632.35) scale(1 1.03)" font-size="40" text-anchor="end">3</text>
<text transform="translate(82.25 548.4) scale(1 1.03)" font-size="40" text-anchor="end">4</text>
<text transform="translate(17.36 472.36) scale(1.03 1)" font-size="54.2" text-anchor="start">c</text>
<text transform="translate(42.7 725.2) rotate(-90) translate(0 0) scale(1 1.03)" font-size="39.7">V</text>
<text transform="translate(42.7 725.2) rotate(-90) translate(24.29 0) scale(1 0.985)" font-size="39.7">oltage (</text>
<text transform="translate(42.7 725.2) rotate(-90) translate(156.71 0) scale(1 1.03)" font-size="39.7">V</text>
<text transform="translate(42.7 725.2) rotate(-90) translate(183.19 0) scale(1 0.985)" font-size="39.7">)</text>
<text transform="translate(211.67 875.8) scale(1 1.03)" font-size="39.88">C</text>
<text transform="translate(240.47 875.8) scale(1 0.985)" font-size="39.88">apacity (m</text>
<text transform="translate(424.41 875.8) scale(1 1.03)" font-size="39.88">A </text>
<text transform="translate(459.89 875.8) scale(1 0.985)" font-size="39.88">h g</text>
<text transform="translate(517.53 855.26) scale(1 0.985)" font-size="22.93" text-anchor="start">-</text>
<path d="M763 0L583 0L583 1147C540 1106 480 1063 412 1023C344 983 277 951 221 930L221 1104C320 1150 405 1206 485 1276C565 1346 620 1413 645 1472L763 1472Z" transform="translate(525.36 855.26) scale(0.01108 -0.01104)" fill="#000"/>
<text transform="translate(538.92 875.8) scale(1 0.985)" font-size="39.88" text-anchor="start">)</text>
<rect x="1180.4" y="647.1" width="138.5" height="128.5" fill="url(#bg)"/>
<polygon points="1267.1,650.2 1314.1,656.8 1307.6,703.2 1223.1,771.6 1190.4,767.4 1198.7,705.5" fill="#26340c"/>
<polygon points="1265.4,648.9 1312.4,655.5 1305.9,701.9 1221.4,770.3 1188.7,766.1 1197,704.2" fill="#cdf03c"/>
<clipPath id="clipd"><rect x="763" y="449.7" width="571.4" height="332.5"/></clipPath><g clip-path="url(#clipd)">
<path d="M773.6 592.7 L773.6 626.9" fill="none" stroke="#0606d6" stroke-width="3.8" stroke-linecap="round" stroke-linejoin="round"/>
<path d="M774 692.5 L774 692.6" fill="none" stroke="#0606d6" stroke-width="3.8" stroke-linecap="round" stroke-linejoin="round"/>
<path d="M777 629.9 C777.5 630.4 778.67 632.17 780 632.9 C781.33 633.63 783.33 633.93 785 634.3 C786.67 634.67 787.5 634.97 790 635.1 C792.5 635.23 796.67 635.28 800 635.1 C803.33 634.92 806.67 634.32 810 634 C813.33 633.68 815 633.45 820 633.2 C825 632.95 832.5 632.75 840 632.5 C847.5 632.25 827.83 631.95 865 631.7 C902.17 631.45 984.83 631.2 1063 631 C1141.17 630.8 1288.83 630.58 1334 630.5" fill="none" stroke="#0606d6" stroke-width="3.8" stroke-linecap="round" stroke-linejoin="round"/>
<path d="M777.5 601.6 C777.92 600.48 778.75 596.88 780 594.9 C781.25 592.92 783.33 591.23 785 589.7 C786.67 588.17 787.5 587.12 790 585.7 C792.5 584.28 796.67 582.52 800 581.2 C803.33 579.88 806.67 578.73 810 577.8 C813.33 576.87 816.67 576.27 820 575.6 C823.33 574.93 826.67 574.42 830 573.8 C833.33 573.18 836.67 572.58 840 571.9 C843.33 571.22 845.83 570.75 850 569.7 C854.17 568.65 856.67 567.25 865 565.6 C873.33 563.95 887.5 561.9 900 559.8 C912.5 557.7 926.67 554.93 940 553 C953.33 551.07 966.67 549.48 980 548.2 C993.33 546.92 1006.67 546.1 1020 545.3 C1033.33 544.5 1046.67 544.02 1060 543.4 C1073.33 542.78 1076.67 542.33 1100 541.6 C1123.33 540.87 1161 539.98 1200 539 C1239 538.02 1311.67 536.25 1334 535.7" fill="none" stroke="#0606d6" stroke-width="3.8" stroke-linecap="round" stroke-linejoin="round"/>
<path d="M773.7 506.2 C773.92 511.83 774.58 531.03 775 540 C775.42 548.97 775.87 552 776.2 560 C776.53 568 776.93 579.67 777 588 C777.07 596.33 776.93 601.33 776.6 610 C776.27 618.67 775.47 626.42 775 640 C774.53 653.58 774 682.92 773.8 691.5" fill="none" stroke="#e3080c" stroke-width="3.8" stroke-linecap="round" stroke-linejoin="round"/>
<path d="M777.5 606.1 C777.92 607.08 778.75 610.15 780 612 C781.25 613.85 783.33 615.33 785 617.2 C786.67 619.07 788.33 621.45 790 623.2 C791.67 624.95 793.33 626.47 795 627.7 C796.67 628.93 798.33 629.8 800 630.6 C801.67 631.4 803.33 631.93 805 632.5 C806.67 633.07 807.5 633.5 810 634 C812.5 634.5 816.67 635.13 820 635.5 C823.33 635.87 822.5 636.02 830 636.2 C837.5 636.38 826.17 636.58 865 636.6 C903.83 636.62 984.83 636.5 1063 636.3 C1141.17 636.1 1288.83 635.55 1334 635.4" fill="none" stroke="#e3080c" stroke-width="3.8" stroke-linecap="round" stroke-linejoin="round"/>
<path d="M777.5 588.3 C777.92 587.3 778.75 583.92 780 582.3 C781.25 580.68 783.33 579.53 785 578.6 C786.67 577.67 787.5 577.32 790 576.7 C792.5 576.08 796.67 575.45 800 574.9 C803.33 574.35 806.67 573.83 810 573.4 C813.33 572.97 816.67 572.7 820 572.3 C823.33 571.9 826.67 571.38 830 571 C833.33 570.62 836.67 570.35 840 570 C843.33 569.65 845.83 569.38 850 568.9 C854.17 568.42 856.67 567.82 865 567.1 C873.33 566.38 887.5 565.33 900 564.6 C912.5 563.87 926.67 563.4 940 562.7 C953.33 562 966.67 561.05 980 560.4 C993.33 559.75 1006.67 559.55 1020 558.8 C1033.33 558.05 1046.67 556.87 1060 555.9 C1073.33 554.93 1076.67 554.32 1100 553 C1123.33 551.68 1161 549.85 1200 548 C1239 546.15 1311.67 542.92 1334 541.9" fill="none" stroke="#e3080c" stroke-width="3.8" stroke-linecap="round" stroke-linejoin="round"/>
</g>
<rect x="763" y="449.7" width="571.4" height="332.5" fill="none" stroke="#151515" stroke-width="1.7"/>
<path d="M774.6 782.2 V789.2 M942.5 782.2 V789.2 M1110.4 782.2 V789.2 M1278.3 782.2 V789.2 M858.55 782.2 V785.7 M1026.45 782.2 V785.7 M1194.35 782.2 V785.7 M763 699.6 H756 M763 615.85 H756 M763 532.1 H756 M763 741.48 H759.5 M763 657.73 H759.5 M763 573.98 H759.5 M763 490.23 H759.5" stroke="#151515" stroke-width="1.6" fill="none"/>
<text transform="translate(774.2 824.4) scale(1 1.03)" font-size="40" text-anchor="middle">0</text>
<path d="M763 0L583 0L583 1147C540 1106 480 1063 412 1023C344 983 277 951 221 930L221 1104C320 1150 405 1206 485 1276C565 1346 620 1413 645 1472L763 1472Z" transform="translate(908.73 824.4) scale(0.01934 -0.01926)" fill="#000"/>
<text transform="translate(930.98 824.4) scale(1 1.03)" font-size="40" text-anchor="start">50</text>
<text transform="translate(1110 824.4) scale(1 1.03)" font-size="40" text-anchor="middle">300</text>
<text transform="translate(1277.9 824.4) scale(1 1.03)" font-size="40" text-anchor="middle">450</text>
<text transform="translate(751.3 712.3) scale(1 1.03)" font-size="40" text-anchor="end">2</text>
<text transform="translate(751.3 628.55) scale(1 1.03)" font-size="40" text-anchor="end">3</text>
<text transform="translate(750.5 544.8) scale(1 1.03)" font-size="40" text-anchor="end">4</text>
<text transform="translate(716.08 474.06) scale(0.98694 1)" font-size="53.6" text-anchor="start">d</text>
<text transform="translate(708.6 732) rotate(-90) translate(0 0) scale(1 1.03)" font-size="39.9">V</text>
<text transform="translate(708.6 732) rotate(-90) translate(24.41 0) scale(1 0.985)" font-size="39.9">oltage (</text>
<text transform="translate(708.6 732) rotate(-90) translate(157.5 0) scale(1 1.03)" font-size="39.9">V</text>
<text transform="translate(708.6 732) rotate(-90) translate(184.11 0) scale(1 0.985)" font-size="39.9">)</text>
<text transform="translate(878.86 883.8) scale(1 1.03)" font-size="40">C</text>
<text transform="translate(907.75 883.8) scale(1 0.985)" font-size="40">apacity (m</text>
<text transform="translate(1092.24 883.8) scale(1 1.03)" font-size="40">A </text>
<text transform="translate(1127.82 883.8) scale(1 0.985)" font-size="40">h g</text>
<text transform="translate(1185.63 863.2) scale(1 0.985)" font-size="23" text-anchor="start">-</text>
<path d="M763 0L583 0L583 1147C540 1106 480 1063 412 1023C344 983 277 951 221 930L221 1104C320 1150 405 1206 485 1276C565 1346 620 1413 645 1472L763 1472Z" transform="translate(1193.49 863.2) scale(0.01112 -0.01107)" fill="#000"/>
<text transform="translate(1207.08 883.8) scale(1 0.985)" font-size="40" text-anchor="start">)</text>
<rect x="516" y="1101.3" width="137.8" height="126.8" fill="url(#bg)"/>
<polygon points="524.4,1105.4 653.5,1168.8 653.5,1175.7 635,1226.4 515.8,1182.6 516.2,1165 517.3,1150 518.8,1135 520.6,1118 522.2,1110" fill="#1b74e6"/>
<defs><radialGradient id="dg"><stop offset="0" stop-color="#b2a8b0"/><stop offset="0.45" stop-color="#c8cad4"/><stop offset="1" stop-color="#dce6f2"/></radialGradient></defs>
<g fill="url(#dg)"><circle cx="520.78" cy="1121.22" r="3.1"/><circle cx="519.05" cy="1134.18" r="3.1"/><circle cx="534.2" cy="1114.02" r="3.1"/><circle cx="532.47" cy="1126.98" r="3.1"/><circle cx="530.74" cy="1139.95" r="3.1"/><circle cx="529.02" cy="1152.91" r="3.1"/><circle cx="527.29" cy="1165.88" r="3.1"/><circle cx="525.56" cy="1178.84" r="3.1"/><circle cx="545.9" cy="1119.78" r="3.1"/><circle cx="544.17" cy="1132.74" r="3.1"/><circle cx="542.44" cy="1145.71" r="3.1"/><circle cx="540.71" cy="1158.67" r="3.1"/><circle cx="538.98" cy="1171.64" r="3.1"/><circle cx="537.26" cy="1184.6" r="3.1"/><circle cx="557.6" cy="1125.54" r="3.1"/><circle cx="555.87" cy="1138.51" r="3.1"/><circle cx="554.14" cy="1151.47" r="3.1"/><circle cx="552.41" cy="1164.44" r="3.1"/><circle cx="550.68" cy="1177.4" r="3.1"/><circle cx="548.95" cy="1190.37" r="3.1"/><circle cx="569.29" cy="1131.3" r="3.1"/><circle cx="567.57" cy="1144.27" r="3.1"/><circle cx="565.84" cy="1157.23" r="3.1"/><circle cx="564.11" cy="1170.2" r="3.1"/><circle cx="562.38" cy="1183.16" r="3.1"/><circle cx="560.65" cy="1196.13" r="3.1"/><circle cx="580.99" cy="1137.07" r="3.1"/><circle cx="579.26" cy="1150.03" r="3.1"/><circle cx="577.53" cy="1163" r="3.1"/><circle cx="575.81" cy="1175.96" r="3.1"/><circle cx="574.08" cy="1188.93" r="3.1"/><circle cx="572.35" cy="1201.89" r="3.1"/><circle cx="592.69" cy="1142.83" r="3.1"/><circle cx="590.96" cy="1155.79" r="3.1"/><circle cx="589.23" cy="1168.76" r="3.1"/><circle cx="587.5" cy="1181.72" r="3.1"/><circle cx="585.78" cy="1194.69" r="3.1"/><circle cx="584.05" cy="1207.65" r="3.1"/><circle cx="604.39" cy="1148.59" r="3.1"/><circle cx="602.66" cy="1161.56" r="3.1"/><circle cx="600.93" cy="1174.52" r="3.1"/><circle cx="599.2" cy="1187.49" r="3.1"/><circle cx="597.47" cy="1200.45" r="3.1"/><circle cx="616.09" cy="1154.35" r="3.1"/><circle cx="614.36" cy="1167.32" r="3.1"/><circle cx="612.63" cy="1180.28" r="3.1"/><circle cx="610.9" cy="1193.25" r="3.1"/><circle cx="609.17" cy="1206.21" r="3.1"/><circle cx="627.78" cy="1160.11" r="3.1"/><circle cx="626.05" cy="1173.08" r="3.1"/><circle cx="624.33" cy="1186.05" r="3.1"/><circle cx="622.6" cy="1199.01" r="3.1"/><circle cx="620.87" cy="1211.98" r="3.1"/><circle cx="639.48" cy="1165.88" r="3.1"/><circle cx="637.75" cy="1178.84" r="3.1"/><circle cx="636.02" cy="1191.81" r="3.1"/><circle cx="634.29" cy="1204.77" r="3.1"/><circle cx="632.57" cy="1217.74" r="3.1"/><circle cx="651.18" cy="1171.64" r="3.1"/><circle cx="649.45" cy="1184.6" r="3.1"/></g>
<clipPath id="clipe"><rect x="91.8" y="907.3" width="570.8" height="332.6"/></clipPath><g clip-path="url(#clipe)">
<path d="M103.2 1149.2 L103.2 1149.3" fill="none" stroke="#0606d6" stroke-width="3.8" stroke-linecap="round" stroke-linejoin="round"/>
<path d="M662 991.4 C651.67 992.05 623.67 993.93 600 995.3 C576.33 996.67 545 998.25 520 999.6 C495 1000.95 471.33 1001.73 450 1003.4 C428.67 1005.07 408.67 1008.07 392 1009.6 C375.33 1011.13 365.33 1011.57 350 1012.6 C334.67 1013.63 316.67 1014.8 300 1015.8 C283.33 1016.8 267.5 1017.52 250 1018.6 C232.5 1019.68 206.67 1021.38 195 1022.3 C183.33 1023.22 185.83 1023.48 180 1024.1 C174.17 1024.72 166.67 1025.38 160 1026 C153.33 1026.62 145.83 1027.03 140 1027.8 C134.17 1028.57 129.17 1029.6 125 1030.6 C120.83 1031.6 117.5 1032.6 115 1033.8 C112.5 1035 111.23 1036.1 110 1037.8 C108.77 1039.5 108.12 1041.8 107.6 1044 C107.08 1046.2 106.92 1048.5 106.9 1051 C106.88 1053.5 107.07 1056.42 107.5 1059 C107.93 1061.58 108.25 1063.95 109.5 1066.5 C110.75 1069.05 112.42 1071.75 115 1074.3 C117.58 1076.85 120.83 1079.72 125 1081.8 C129.17 1083.88 134.17 1085.53 140 1086.8 C145.83 1088.07 150.83 1088.63 160 1089.4 C169.17 1090.17 180 1090.9 195 1091.4 C210 1091.9 232.5 1092.13 250 1092.4 C267.5 1092.67 278.33 1092.98 300 1093 C321.67 1093.02 319.67 1092.8 380 1092.5 C440.33 1092.2 615 1091.42 662 1091.2" fill="none" stroke="#0606d6" stroke-width="3.8" stroke-linecap="round" stroke-linejoin="round"/>
<path d="M103.2 965.8 L103.2 1148.3" fill="none" stroke="#e3080c" stroke-width="3.8" stroke-linecap="round" stroke-linejoin="round"/>
<path d="M662 994.2 C651.67 994.68 623.67 995.9 600 997.1 C576.33 998.3 545 1000.08 520 1001.4 C495 1002.72 471.33 1003.87 450 1005 C428.67 1006.13 408.67 1007.25 392 1008.2 C375.33 1009.15 365.33 1009.8 350 1010.7 C334.67 1011.6 316.67 1012.78 300 1013.6 C283.33 1014.42 267.5 1014.83 250 1015.6 C232.5 1016.37 208.33 1017.4 195 1018.2 C181.67 1019 177.5 1019.67 170 1020.4 C162.5 1021.13 155.83 1021.92 150 1022.6 C144.17 1023.28 139.17 1023.87 135 1024.5 C130.83 1025.13 127.83 1025.78 125 1026.4 C122.17 1027.02 120 1027.47 118 1028.2 C116 1028.93 114.33 1029.75 113 1030.8 C111.67 1031.85 110.92 1033.02 110 1034.5 C109.08 1035.98 108.18 1037.78 107.5 1039.7 C106.82 1041.62 106.2 1044.12 105.9 1046 C105.6 1047.88 105.68 1049 105.7 1051 C105.72 1053 105.73 1055.67 106 1058 C106.27 1060.33 106.63 1062.72 107.3 1065 C107.97 1067.28 108.72 1069.72 110 1071.7 C111.28 1073.68 113.33 1075.32 115 1076.9 C116.67 1078.48 118.33 1079.98 120 1081.2 C121.67 1082.42 123.33 1083.33 125 1084.2 C126.67 1085.07 127.5 1085.65 130 1086.4 C132.5 1087.15 136.67 1088.12 140 1088.7 C143.33 1089.28 145 1089.38 150 1089.9 C155 1090.42 162.5 1091.2 170 1091.8 C177.5 1092.4 181.67 1092.97 195 1093.5 C208.33 1094.03 232.5 1094.58 250 1095 C267.5 1095.42 231.33 1095.83 300 1096 C368.67 1096.17 601.67 1096 662 1096" fill="none" stroke="#e3080c" stroke-width="3.8" stroke-linecap="round" stroke-linejoin="round"/>
</g>
<rect x="91.8" y="907.3" width="570.8" height="332.6" fill="none" stroke="#151515" stroke-width="1.7"/>
<path d="M102.7 1239.9 V1246.9 M270.6 1239.9 V1246.9 M438.5 1239.9 V1246.9 M606.4 1239.9 V1246.9 M186.65 1239.9 V1243.4 M354.55 1239.9 V1243.4 M522.45 1239.9 V1243.4 M91.8 1156.8 H84.8 M91.8 1073.6 H84.8 M91.8 990.4 H84.8 M91.8 1198.4 H88.3 M91.8 1115.2 H88.3 M91.8 1032 H88.3 M91.8 948.8 H88.3" stroke="#151515" stroke-width="1.6" fill="none"/>
<text transform="translate(102.3 1282.1) scale(1 1.03)" font-size="40" text-anchor="middle">0</text>
<path d="M763 0L583 0L583 1147C540 1106 480 1063 412 1023C344 983 277 951 221 930L221 1104C320 1150 405 1206 485 1276C565 1346 620 1413 645 1472L763 1472Z" transform="translate(236.83 1282.1) scale(0.01934 -0.01926)" fill="#000"/>
<text transform="translate(259.08 1282.1) scale(1 1.03)" font-size="40" text-anchor="start">50</text>
<text transform="translate(438.1 1282.1) scale(1 1.03)" font-size="40" text-anchor="middle">300</text>
<text transform="translate(606 1282.1) scale(1 1.03)" font-size="40" text-anchor="middle">450</text>
<text transform="translate(80 1169.5) scale(1 1.03)" font-size="40" text-anchor="end">2</text>
<text transform="translate(80 1086.3) scale(1 1.03)" font-size="40" text-anchor="end">3</text>
<text transform="translate(79.2 1003.1) scale(1 1.03)" font-size="40" text-anchor="end">4</text>
<text transform="translate(22.1 918.86) scale(1.01 1)" font-size="54.2" text-anchor="start">e</text>
<text transform="translate(37.7 1178.3) rotate(-90) translate(0 0) scale(1 1.03)" font-size="40.1">V</text>
<text transform="translate(37.7 1178.3) rotate(-90) translate(24.53 0) scale(1 0.985)" font-size="40.1">oltage (</text>
<text transform="translate(37.7 1178.3) rotate(-90) translate(158.29 0) scale(1 1.03)" font-size="40.1">V</text>
<text transform="translate(37.7 1178.3) rotate(-90) translate(185.03 0) scale(1 0.985)" font-size="40.1">)</text>
<text transform="translate(207.36 1326) scale(1 1.03)" font-size="40.06">C</text>
<text transform="translate(236.29 1326) scale(1 0.985)" font-size="40.06">apacity (m</text>
<text transform="translate(421.05 1326) scale(1 1.03)" font-size="40.06">A </text>
<text transform="translate(456.69 1326) scale(1 0.985)" font-size="40.06">h g</text>
<text transform="translate(514.58 1305.37) scale(1 0.985)" font-size="23.03" text-anchor="start">-</text>
<path d="M763 0L583 0L583 1147C540 1106 480 1063 412 1023C344 983 277 951 221 930L221 1104C320 1150 405 1206 485 1276C565 1346 620 1413 645 1472L763 1472Z" transform="translate(522.45 1305.37) scale(0.01113 -0.01109)" fill="#000"/>
<text transform="translate(536.06 1326) scale(1 0.985)" font-size="40.06" text-anchor="start">)</text>
<rect x="1176.3" y="1104.8" width="138.7" height="127.9" fill="url(#bg)"/>
<polygon points="1225.3,1116.3 1282.9,1125 1306.6,1175.7 1269.1,1225.8 1208,1215.4 1187.3,1166.5" fill="#04f204" stroke="#2f6a2f" stroke-width="0.9"/>
<g><circle cx="1221.75" cy="1123.81" r="1.75" fill="#4f6a55"/><circle cx="1221.25" cy="1123.61" r="0.85" fill="#d8e4dc"/><circle cx="1215.41" cy="1131.88" r="1.75" fill="#4f6a55"/><circle cx="1214.91" cy="1131.68" r="0.85" fill="#d8e4dc"/><circle cx="1209.07" cy="1139.95" r="1.75" fill="#4f6a55"/><circle cx="1208.57" cy="1139.75" r="0.85" fill="#d8e4dc"/><circle cx="1202.73" cy="1148.01" r="1.75" fill="#4f6a55"/><circle cx="1202.23" cy="1147.81" r="0.85" fill="#d8e4dc"/><circle cx="1196.39" cy="1156.08" r="1.75" fill="#4f6a55"/><circle cx="1195.89" cy="1155.88" r="0.85" fill="#d8e4dc"/><circle cx="1190.05" cy="1164.15" r="1.75" fill="#4f6a55"/><circle cx="1189.55" cy="1163.95" r="0.85" fill="#d8e4dc"/><circle cx="1232.23" cy="1126.12" r="1.75" fill="#4f6a55"/><circle cx="1231.73" cy="1125.92" r="0.85" fill="#d8e4dc"/><circle cx="1225.89" cy="1134.18" r="1.75" fill="#4f6a55"/><circle cx="1225.39" cy="1133.98" r="0.85" fill="#d8e4dc"/><circle cx="1219.56" cy="1142.25" r="1.75" fill="#4f6a55"/><circle cx="1219.06" cy="1142.05" r="0.85" fill="#d8e4dc"/><circle cx="1213.22" cy="1150.32" r="1.75" fill="#4f6a55"/><circle cx="1212.72" cy="1150.12" r="0.85" fill="#d8e4dc"/><circle cx="1206.88" cy="1158.39" r="1.75" fill="#4f6a55"/><circle cx="1206.38" cy="1158.19" r="0.85" fill="#d8e4dc"/><circle cx="1200.54" cy="1166.45" r="1.75" fill="#4f6a55"/><circle cx="1200.04" cy="1166.25" r="0.85" fill="#d8e4dc"/><circle cx="1194.2" cy="1174.52" r="1.75" fill="#4f6a55"/><circle cx="1193.7" cy="1174.32" r="0.85" fill="#d8e4dc"/><circle cx="1249.06" cy="1120.35" r="1.75" fill="#4f6a55"/><circle cx="1248.56" cy="1120.15" r="0.85" fill="#d8e4dc"/><circle cx="1242.72" cy="1128.42" r="1.75" fill="#4f6a55"/><circle cx="1242.22" cy="1128.22" r="0.85" fill="#d8e4dc"/><circle cx="1236.38" cy="1136.49" r="1.75" fill="#4f6a55"/><circle cx="1235.88" cy="1136.29" r="0.85" fill="#d8e4dc"/><circle cx="1230.04" cy="1144.56" r="1.75" fill="#4f6a55"/><circle cx="1229.54" cy="1144.36" r="0.85" fill="#d8e4dc"/><circle cx="1223.71" cy="1152.62" r="1.75" fill="#4f6a55"/><circle cx="1223.21" cy="1152.42" r="0.85" fill="#d8e4dc"/><circle cx="1217.37" cy="1160.69" r="1.75" fill="#4f6a55"/><circle cx="1216.87" cy="1160.49" r="0.85" fill="#d8e4dc"/><circle cx="1211.03" cy="1168.76" r="1.75" fill="#4f6a55"/><circle cx="1210.53" cy="1168.56" r="0.85" fill="#d8e4dc"/><circle cx="1204.69" cy="1176.83" r="1.75" fill="#4f6a55"/><circle cx="1204.19" cy="1176.63" r="0.85" fill="#d8e4dc"/><circle cx="1198.35" cy="1184.89" r="1.75" fill="#4f6a55"/><circle cx="1197.85" cy="1184.69" r="0.85" fill="#d8e4dc"/><circle cx="1259.55" cy="1122.66" r="1.75" fill="#4f6a55"/><circle cx="1259.05" cy="1122.46" r="0.85" fill="#d8e4dc"/><circle cx="1253.21" cy="1130.73" r="1.75" fill="#4f6a55"/><circle cx="1252.71" cy="1130.53" r="0.85" fill="#d8e4dc"/><circle cx="1246.87" cy="1138.79" r="1.75" fill="#4f6a55"/><circle cx="1246.37" cy="1138.59" r="0.85" fill="#d8e4dc"/><circle cx="1240.53" cy="1146.86" r="1.75" fill="#4f6a55"/><circle cx="1240.03" cy="1146.66" r="0.85" fill="#d8e4dc"/><circle cx="1234.19" cy="1154.93" r="1.75" fill="#4f6a55"/><circle cx="1233.69" cy="1154.73" r="0.85" fill="#d8e4dc"/><circle cx="1227.85" cy="1163" r="1.75" fill="#4f6a55"/><circle cx="1227.35" cy="1162.8" r="0.85" fill="#d8e4dc"/><circle cx="1221.52" cy="1171.06" r="1.75" fill="#4f6a55"/><circle cx="1221.02" cy="1170.86" r="0.85" fill="#d8e4dc"/><circle cx="1215.18" cy="1179.13" r="1.75" fill="#4f6a55"/><circle cx="1214.68" cy="1178.93" r="0.85" fill="#d8e4dc"/><circle cx="1208.84" cy="1187.2" r="1.75" fill="#4f6a55"/><circle cx="1208.34" cy="1187" r="0.85" fill="#d8e4dc"/><circle cx="1202.5" cy="1195.27" r="1.75" fill="#4f6a55"/><circle cx="1202" cy="1195.07" r="0.85" fill="#d8e4dc"/><circle cx="1270.03" cy="1124.96" r="1.75" fill="#4f6a55"/><circle cx="1269.53" cy="1124.76" r="0.85" fill="#d8e4dc"/><circle cx="1263.7" cy="1133.03" r="1.75" fill="#4f6a55"/><circle cx="1263.2" cy="1132.83" r="0.85" fill="#d8e4dc"/><circle cx="1257.36" cy="1141.1" r="1.75" fill="#4f6a55"/><circle cx="1256.86" cy="1140.9" r="0.85" fill="#d8e4dc"/><circle cx="1251.02" cy="1149.17" r="1.75" fill="#4f6a55"/><circle cx="1250.52" cy="1148.97" r="0.85" fill="#d8e4dc"/><circle cx="1244.68" cy="1157.23" r="1.75" fill="#4f6a55"/><circle cx="1244.18" cy="1157.03" r="0.85" fill="#d8e4dc"/><circle cx="1238.34" cy="1165.3" r="1.75" fill="#4f6a55"/><circle cx="1237.84" cy="1165.1" r="0.85" fill="#d8e4dc"/><circle cx="1232" cy="1173.37" r="1.75" fill="#4f6a55"/><circle cx="1231.5" cy="1173.17" r="0.85" fill="#d8e4dc"/><circle cx="1225.66" cy="1181.44" r="1.75" fill="#4f6a55"/><circle cx="1225.16" cy="1181.24" r="0.85" fill="#d8e4dc"/><circle cx="1219.33" cy="1189.5" r="1.75" fill="#4f6a55"/><circle cx="1218.83" cy="1189.3" r="0.85" fill="#d8e4dc"/><circle cx="1212.99" cy="1197.57" r="1.75" fill="#4f6a55"/><circle cx="1212.49" cy="1197.37" r="0.85" fill="#d8e4dc"/><circle cx="1206.65" cy="1205.64" r="1.75" fill="#4f6a55"/><circle cx="1206.15" cy="1205.44" r="0.85" fill="#d8e4dc"/><circle cx="1280.52" cy="1127.27" r="1.75" fill="#4f6a55"/><circle cx="1280.02" cy="1127.07" r="0.85" fill="#d8e4dc"/><circle cx="1274.18" cy="1135.34" r="1.75" fill="#4f6a55"/><circle cx="1273.68" cy="1135.14" r="0.85" fill="#d8e4dc"/><circle cx="1267.84" cy="1143.4" r="1.75" fill="#4f6a55"/><circle cx="1267.34" cy="1143.2" r="0.85" fill="#d8e4dc"/><circle cx="1261.51" cy="1151.47" r="1.75" fill="#4f6a55"/><circle cx="1261.01" cy="1151.27" r="0.85" fill="#d8e4dc"/><circle cx="1255.17" cy="1159.54" r="1.75" fill="#4f6a55"/><circle cx="1254.67" cy="1159.34" r="0.85" fill="#d8e4dc"/><circle cx="1248.83" cy="1167.61" r="1.75" fill="#4f6a55"/><circle cx="1248.33" cy="1167.41" r="0.85" fill="#d8e4dc"/><circle cx="1242.49" cy="1175.67" r="1.75" fill="#4f6a55"/><circle cx="1241.99" cy="1175.47" r="0.85" fill="#d8e4dc"/><circle cx="1236.15" cy="1183.74" r="1.75" fill="#4f6a55"/><circle cx="1235.65" cy="1183.54" r="0.85" fill="#d8e4dc"/><circle cx="1229.81" cy="1191.81" r="1.75" fill="#4f6a55"/><circle cx="1229.31" cy="1191.61" r="0.85" fill="#d8e4dc"/><circle cx="1223.47" cy="1199.87" r="1.75" fill="#4f6a55"/><circle cx="1222.97" cy="1199.67" r="0.85" fill="#d8e4dc"/><circle cx="1217.14" cy="1207.94" r="1.75" fill="#4f6a55"/><circle cx="1216.64" cy="1207.74" r="0.85" fill="#d8e4dc"/><circle cx="1284.67" cy="1137.64" r="1.75" fill="#4f6a55"/><circle cx="1284.17" cy="1137.44" r="0.85" fill="#d8e4dc"/><circle cx="1278.33" cy="1145.71" r="1.75" fill="#4f6a55"/><circle cx="1277.83" cy="1145.51" r="0.85" fill="#d8e4dc"/><circle cx="1271.99" cy="1153.78" r="1.75" fill="#4f6a55"/><circle cx="1271.49" cy="1153.58" r="0.85" fill="#d8e4dc"/><circle cx="1265.66" cy="1161.84" r="1.75" fill="#4f6a55"/><circle cx="1265.16" cy="1161.64" r="0.85" fill="#d8e4dc"/><circle cx="1259.32" cy="1169.91" r="1.75" fill="#4f6a55"/><circle cx="1258.82" cy="1169.71" r="0.85" fill="#d8e4dc"/><circle cx="1252.98" cy="1177.98" r="1.75" fill="#4f6a55"/><circle cx="1252.48" cy="1177.78" r="0.85" fill="#d8e4dc"/><circle cx="1246.64" cy="1186.05" r="1.75" fill="#4f6a55"/><circle cx="1246.14" cy="1185.85" r="0.85" fill="#d8e4dc"/><circle cx="1240.3" cy="1194.11" r="1.75" fill="#4f6a55"/><circle cx="1239.8" cy="1193.91" r="0.85" fill="#d8e4dc"/><circle cx="1233.96" cy="1202.18" r="1.75" fill="#4f6a55"/><circle cx="1233.46" cy="1201.98" r="0.85" fill="#d8e4dc"/><circle cx="1227.62" cy="1210.25" r="1.75" fill="#4f6a55"/><circle cx="1227.12" cy="1210.05" r="0.85" fill="#d8e4dc"/><circle cx="1288.82" cy="1148.01" r="1.75" fill="#4f6a55"/><circle cx="1288.32" cy="1147.81" r="0.85" fill="#d8e4dc"/><circle cx="1282.48" cy="1156.08" r="1.75" fill="#4f6a55"/><circle cx="1281.98" cy="1155.88" r="0.85" fill="#d8e4dc"/><circle cx="1276.14" cy="1164.15" r="1.75" fill="#4f6a55"/><circle cx="1275.64" cy="1163.95" r="0.85" fill="#d8e4dc"/><circle cx="1269.8" cy="1172.22" r="1.75" fill="#4f6a55"/><circle cx="1269.3" cy="1172.02" r="0.85" fill="#d8e4dc"/><circle cx="1263.47" cy="1180.28" r="1.75" fill="#4f6a55"/><circle cx="1262.97" cy="1180.08" r="0.85" fill="#d8e4dc"/><circle cx="1257.13" cy="1188.35" r="1.75" fill="#4f6a55"/><circle cx="1256.63" cy="1188.15" r="0.85" fill="#d8e4dc"/><circle cx="1250.79" cy="1196.42" r="1.75" fill="#4f6a55"/><circle cx="1250.29" cy="1196.22" r="0.85" fill="#d8e4dc"/><circle cx="1244.45" cy="1204.48" r="1.75" fill="#4f6a55"/><circle cx="1243.95" cy="1204.28" r="0.85" fill="#d8e4dc"/><circle cx="1238.11" cy="1212.55" r="1.75" fill="#4f6a55"/><circle cx="1237.61" cy="1212.35" r="0.85" fill="#d8e4dc"/><circle cx="1292.97" cy="1158.39" r="1.75" fill="#4f6a55"/><circle cx="1292.47" cy="1158.19" r="0.85" fill="#d8e4dc"/><circle cx="1286.63" cy="1166.45" r="1.75" fill="#4f6a55"/><circle cx="1286.13" cy="1166.25" r="0.85" fill="#d8e4dc"/><circle cx="1280.29" cy="1174.52" r="1.75" fill="#4f6a55"/><circle cx="1279.79" cy="1174.32" r="0.85" fill="#d8e4dc"/><circle cx="1273.95" cy="1182.59" r="1.75" fill="#4f6a55"/><circle cx="1273.45" cy="1182.39" r="0.85" fill="#d8e4dc"/><circle cx="1267.61" cy="1190.66" r="1.75" fill="#4f6a55"/><circle cx="1267.11" cy="1190.46" r="0.85" fill="#d8e4dc"/><circle cx="1261.28" cy="1198.72" r="1.75" fill="#4f6a55"/><circle cx="1260.78" cy="1198.52" r="0.85" fill="#d8e4dc"/><circle cx="1254.94" cy="1206.79" r="1.75" fill="#4f6a55"/><circle cx="1254.44" cy="1206.59" r="0.85" fill="#d8e4dc"/><circle cx="1248.6" cy="1214.86" r="1.75" fill="#4f6a55"/><circle cx="1248.1" cy="1214.66" r="0.85" fill="#d8e4dc"/><circle cx="1297.12" cy="1168.76" r="1.75" fill="#4f6a55"/><circle cx="1296.62" cy="1168.56" r="0.85" fill="#d8e4dc"/><circle cx="1290.78" cy="1176.83" r="1.75" fill="#4f6a55"/><circle cx="1290.28" cy="1176.63" r="0.85" fill="#d8e4dc"/><circle cx="1284.44" cy="1184.89" r="1.75" fill="#4f6a55"/><circle cx="1283.94" cy="1184.69" r="0.85" fill="#d8e4dc"/><circle cx="1278.1" cy="1192.96" r="1.75" fill="#4f6a55"/><circle cx="1277.6" cy="1192.76" r="0.85" fill="#d8e4dc"/><circle cx="1271.76" cy="1201.03" r="1.75" fill="#4f6a55"/><circle cx="1271.26" cy="1200.83" r="0.85" fill="#d8e4dc"/><circle cx="1265.42" cy="1209.09" r="1.75" fill="#4f6a55"/><circle cx="1264.92" cy="1208.89" r="0.85" fill="#d8e4dc"/><circle cx="1259.09" cy="1217.16" r="1.75" fill="#4f6a55"/><circle cx="1258.59" cy="1216.96" r="0.85" fill="#d8e4dc"/><circle cx="1301.27" cy="1179.13" r="1.75" fill="#4f6a55"/><circle cx="1300.77" cy="1178.93" r="0.85" fill="#d8e4dc"/><circle cx="1294.93" cy="1187.2" r="1.75" fill="#4f6a55"/><circle cx="1294.43" cy="1187" r="0.85" fill="#d8e4dc"/><circle cx="1288.59" cy="1195.27" r="1.75" fill="#4f6a55"/><circle cx="1288.09" cy="1195.07" r="0.85" fill="#d8e4dc"/><circle cx="1282.25" cy="1203.33" r="1.75" fill="#4f6a55"/><circle cx="1281.75" cy="1203.13" r="0.85" fill="#d8e4dc"/><circle cx="1275.91" cy="1211.4" r="1.75" fill="#4f6a55"/><circle cx="1275.41" cy="1211.2" r="0.85" fill="#d8e4dc"/><circle cx="1269.57" cy="1219.47" r="1.75" fill="#4f6a55"/><circle cx="1269.07" cy="1219.27" r="0.85" fill="#d8e4dc"/></g>
<clipPath id="clipf"><rect x="763" y="908.4" width="571.7" height="328.2"/></clipPath><g clip-path="url(#clipf)">
<path d="M774.3 1050.5 L774.3 1089.9" fill="none" stroke="#e3080c" stroke-width="3.8" stroke-linecap="round" stroke-linejoin="round"/>
<path d="M775.5 1088 C775.92 1088.33 776.92 1089.6 778 1090 C779.08 1090.4 767.5 1090.32 782 1090.4 C796.5 1090.48 842 1090.68 865 1090.5 C888 1090.32 897.5 1089.57 920 1089.3 C942.5 1089.03 970 1089.02 1000 1088.9 C1030 1088.78 1044.33 1088.8 1100 1088.6 C1155.67 1088.4 1295 1087.85 1334 1087.7" fill="none" stroke="#e3080c" stroke-width="3.8" stroke-linecap="round" stroke-linejoin="round"/>
<path d="M778.5 1057 C779.08 1056.28 780.92 1053.92 782 1052.7 C783.08 1051.48 783.67 1050.82 785 1049.7 C786.33 1048.58 788.33 1047.12 790 1046 C791.67 1044.88 793.33 1043.87 795 1043 C796.67 1042.13 798.33 1041.38 800 1040.8 C801.67 1040.22 803.33 1039.8 805 1039.5 C806.67 1039.2 807.5 1039.22 810 1039 C812.5 1038.78 815 1038.58 820 1038.2 C825 1037.82 832.5 1037.5 840 1036.7 C847.5 1035.9 855 1034.17 865 1033.4 C875 1032.63 885.83 1032.68 900 1032.1 C914.17 1031.52 933.33 1030.57 950 1029.9 C966.67 1029.23 981.17 1028.78 1000 1028.1 C1018.83 1027.42 1029.67 1026.48 1063 1025.8 C1096.33 1025.12 1154.83 1024.58 1200 1024 C1245.17 1023.42 1311.67 1022.58 1334 1022.3" fill="none" stroke="#e3080c" stroke-width="3.8" stroke-linecap="round" stroke-linejoin="round"/>
<path d="M773.7 964.7 C774.05 973.92 775.18 1006.62 775.8 1020 C776.42 1033.38 777.2 1038.33 777.4 1045 C777.6 1051.67 777.33 1050.83 777 1060 C776.67 1069.17 775.9 1084.9 775.4 1100 C774.9 1115.1 774.23 1142.17 774 1150.6" fill="none" stroke="#0606d6" stroke-width="3.8" stroke-linecap="round" stroke-linejoin="round"/>
<path d="M778.5 1057.5 C779.58 1058.18 783.08 1060.42 785 1061.6 C786.92 1062.78 788.33 1063.48 790 1064.6 C791.67 1065.72 793.33 1067.07 795 1068.3 C796.67 1069.53 797.5 1070.38 800 1072 C802.5 1073.62 806.67 1076.38 810 1078 C813.33 1079.62 816.67 1080.6 820 1081.7 C823.33 1082.8 826.67 1083.83 830 1084.6 C833.33 1085.37 836.67 1085.82 840 1086.3 C843.33 1086.78 845.83 1087.12 850 1087.5 C854.17 1087.88 856.67 1088.15 865 1088.6 C873.33 1089.05 884.17 1089.73 900 1090.2 C915.83 1090.67 943.33 1091.03 960 1091.4 C976.67 1091.77 982.83 1092.17 1000 1092.4 C1017.17 1092.63 1007.33 1092.77 1063 1092.8 C1118.67 1092.83 1288.83 1092.63 1334 1092.6" fill="none" stroke="#0606d6" stroke-width="3.8" stroke-linecap="round" stroke-linejoin="round"/>
<path d="M777.5 1046 C777.92 1045.13 778.75 1042.22 780 1040.8 C781.25 1039.38 783.33 1038.43 785 1037.5 C786.67 1036.57 787.5 1035.82 790 1035.2 C792.5 1034.58 796.67 1034.23 800 1033.8 C803.33 1033.37 806.67 1032.92 810 1032.6 C813.33 1032.28 815 1032.2 820 1031.9 C825 1031.6 832.5 1031.18 840 1030.8 C847.5 1030.42 855 1029.98 865 1029.6 C875 1029.22 877.5 1029.13 900 1028.5 C922.5 1027.87 972.83 1026.53 1000 1025.8 C1027.17 1025.07 1029.67 1024.68 1063 1024.1 C1096.33 1023.52 1154.83 1022.97 1200 1022.3 C1245.17 1021.63 1311.67 1020.47 1334 1020.1" fill="none" stroke="#0606d6" stroke-width="3.8" stroke-linecap="round" stroke-linejoin="round"/>
</g>
<rect x="763" y="908.4" width="571.7" height="328.2" fill="none" stroke="#151515" stroke-width="1.7"/>
<path d="M774.5 1236.6 V1243.6 M942.43 1236.6 V1243.6 M1110.37 1236.6 V1243.6 M1278.3 1236.6 V1243.6 M858.47 1236.6 V1240.1 M1026.4 1236.6 V1240.1 M1194.33 1236.6 V1240.1 M763 1154.6 H756 M763 1072.5 H756 M763 990.4 H756 M763 1195.65 H759.5 M763 1113.55 H759.5 M763 1031.45 H759.5 M763 949.35 H759.5" stroke="#151515" stroke-width="1.6" fill="none"/>
<text transform="translate(774.1 1278.8) scale(1 1.03)" font-size="40" text-anchor="middle">0</text>
<path d="M763 0L583 0L583 1147C540 1106 480 1063 412 1023C344 983 277 951 221 930L221 1104C320 1150 405 1206 485 1276C565 1346 620 1413 645 1472L763 1472Z" transform="translate(908.66 1278.8) scale(0.01934 -0.01926)" fill="#000"/>
<text transform="translate(930.91 1278.8) scale(1 1.03)" font-size="40" text-anchor="start">50</text>
<text transform="translate(1109.97 1278.8) scale(1 1.03)" font-size="40" text-anchor="middle">300</text>
<text transform="translate(1277.9 1278.8) scale(1 1.03)" font-size="40" text-anchor="middle">450</text>
<text transform="translate(751.3 1167.3) scale(1 1.03)" font-size="40" text-anchor="end">2</text>
<text transform="translate(751.3 1085.2) scale(1 1.03)" font-size="40" text-anchor="end">3</text>
<text transform="translate(750.5 1003.1) scale(1 1.03)" font-size="40" text-anchor="end">4</text>
<text transform="translate(724.62 923.4) scale(1.04 1)" font-size="53.5" text-anchor="start">f</text>
<text transform="translate(713.8 1171.2) rotate(-90) translate(0 0) scale(1 1.03)" font-size="39.7">V</text>
<text transform="translate(713.8 1171.2) rotate(-90) translate(24.29 0) scale(1 0.985)" font-size="39.7">oltage (</text>
<text transform="translate(713.8 1171.2) rotate(-90) translate(156.71 0) scale(1 1.03)" font-size="39.7">V</text>
<text transform="translate(713.8 1171.2) rotate(-90) translate(183.19 0) scale(1 0.985)" font-size="39.7">)</text>
<text transform="translate(866.76 1317.7) scale(1 1.03)" font-size="39.93">C</text>
<text transform="translate(895.6 1317.7) scale(1 0.985)" font-size="39.93">apacity (m</text>
<text transform="translate(1079.76 1317.7) scale(1 1.03)" font-size="39.93">A </text>
<text transform="translate(1115.28 1317.7) scale(1 0.985)" font-size="39.93">h g</text>
<text transform="translate(1172.99 1297.14) scale(1 0.985)" font-size="22.96" text-anchor="start">-</text>
<path d="M763 0L583 0L583 1147C540 1106 480 1063 412 1023C344 983 277 951 221 930L221 1104C320 1150 405 1206 485 1276C565 1346 620 1413 645 1472L763 1472Z" transform="translate(1180.83 1297.14) scale(0.0111 -0.01105)" fill="#000"/>
<text transform="translate(1194.4 1317.7) scale(1 0.985)" font-size="39.93" text-anchor="start">)</text>
</svg></body></html>
